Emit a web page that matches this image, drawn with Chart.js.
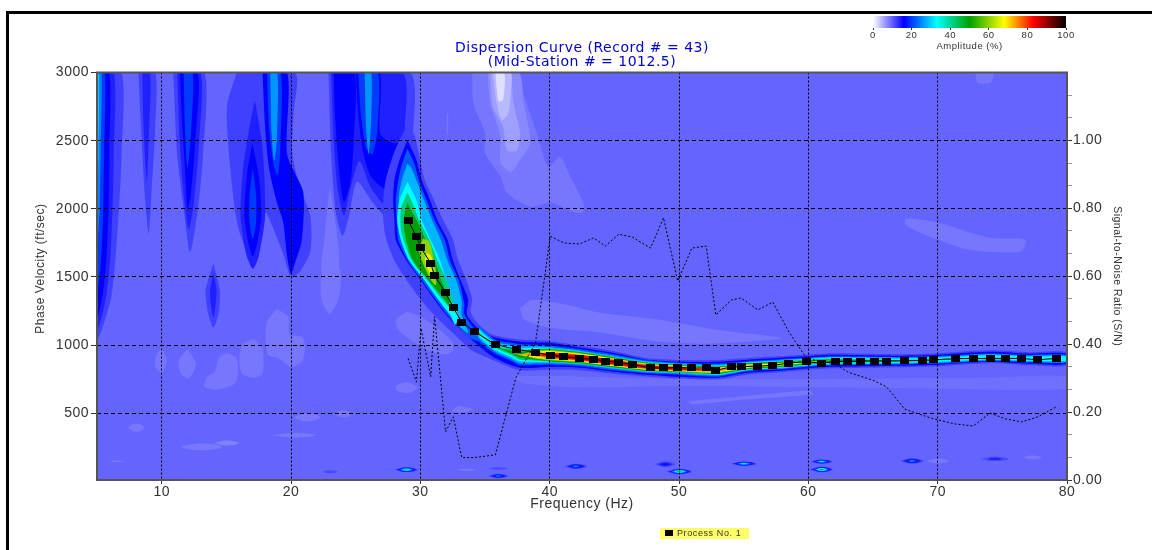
<!DOCTYPE html>
<html>
<head>
<meta charset="utf-8">
<title>Dispersion Curve</title>
<script src="https://cdn.jsdelivr.net/npm/chart.js@4/dist/chart.umd.min.js"></script>
<style>
    html, body { margin: 0; padding: 0; background: #fff; overflow: hidden; }
    #wrap { position: relative; width: 1152px; height: 550px; }
    #main { position: absolute; left: 0; top: 0; filter: blur(0.5px); }
    #bar { position: absolute; left: 853px; top: 12px; filter: blur(0.4px); }
    #frame { position: absolute; left: 6px; top: 11px; width: 1143px; height: 539px;
             border: 3px solid #000; border-bottom: 0; pointer-events: none; }
    #key { position: absolute; left: 660px; top: 528px; width: 89px; height: 11px; background: #ffff66;
           font: 9px/11px "Liberation Sans", Arial, sans-serif; letter-spacing: .6px; color: #333; white-space: nowrap; }
    #key i { position: absolute; left: 5px; top: 2px; width: 8px; height: 6px; background: #000; }
    #key span { position: absolute; left: 17px; top: 0; }
</style>
</head>
<body>
<div id="wrap">
    <canvas id="main" width="1152" height="550"></canvas>
    <canvas id="bar" width="233" height="40"></canvas>
    <div id="frame"></div>
    <div id="key"><i></i><span>Process No. 1</span></div>
</div>
<script>
// axis ticks
const freqTicks = [10, 20, 30, 40, 50, 60, 70, 80];
const velocityTicks = [500, 1000, 1500, 2000, 2500, 3000];
const snTicks = [0, 0.0667, 0.1333, 0.2, 0.2667, 0.3333, 0.4, 0.4667, 0.5333, 0.6, 0.6667, 0.7333, 0.8, 0.8667, 0.9333, 1, 1.0667, 1.1333];
const amplitudeTicks = [0, 20, 40, 60, 80, 100];

// picked dispersion curve and signal-to-noise ratio
const pickFreq = [29.05, 29.7, 30.05, 30.8, 31.1, 31.95, 32.55, 33.2, 34.15, 35.8, 37.4, 38.9, 40.05, 41.1, 42.3, 43.4, 44.3, 45.35, 46.4, 47.8, 48.8, 49.9, 51.0, 52.1, 52.85, 54.05, 54.8, 56.1, 57.25, 58.5, 59.85, 61.0, 62.1, 63.05, 64, 65.1, 66.05, 67.45, 68.8, 69.7, 71.35, 72.75, 74.05, 75.25, 76.5, 77.75, 79.15];
const pickVel = [1917, 1794, 1714, 1601, 1508, 1386, 1274, 1169, 1100, 1005, 968, 949, 924, 915, 902, 895, 883, 873, 858, 832, 832, 836, 832, 832, 814, 841, 841, 846, 851, 868, 878, 868, 880, 878, 883, 883, 883, 885, 887, 892, 900, 902, 902, 902, 902, 892, 902];
const pickSN = [.358, .289, .447, .304, .481, .142, .186, .066, .066, .074, .303, .403, .718, .698, .695, .713, .689, .724, .715, .683, .772, .586, .683, .689, .486, .530, .536, .501, .524, .436, .359, .348, .342, .318, .306, .292, .274, .209, .191, .180, .165, .159, .197, .180, .171, .186, .215];

// colour bar stops: amplitude and colour
const rampAmp = [0, 16, 33, 50, 68, 83, 100];
const rampRGB = [[255, 255, 255], [0, 0, 255], [0, 255, 255], [0, 160, 0], [255, 255, 0], [255, 0, 0], [0, 0, 0]];
const backgroundAmp = 9.7;

// contour outlines, freq,velocity pairs
const paleA = [9.95,985, 10.4,890, 10.05,795, 9.55,830, 9.5,900];
const paleB = [12,975, 12.65,860, 12.1,755, 11.5,790, 11.3,880];
const paleC = [15,946, 15.8,904, 15.75,725, 14.25,672, 13.3,696, 13.5,768, 14.1,805, 14.4,904];
const paleD = [17.1,1046, 17.8,980, 17.8,790, 17.1,760, 16.2,790, 16,900, 16.2,1000];
const paleE = [18.9,1265, 19.8,1210, 19.9,1076, 20.85,1063, 21.1,990, 20.85,880, 20,840, 19,904, 18.2,930, 18.1,1162];
const paleF = [22.8,1650, 23.8,1550, 23.7,1350, 23,1230, 22.4,1320, 22.3,1480];
const paleG = [23,2170, 23.7,1700, 23.6,1530, 22.4,1530, 22.6,1800];
const paleH = [29,1247, 30,1210, 31.5,1113, 32.5,1017, 32.5,953, 31.8,930, 30.5,966, 29.2,1040, 28.3,1113, 28.1,1186];
const paleI = [29,730, 29.8,690, 29.2,650, 28.3,660, 28.1,700];
const paleJ = [33,555, 34.1,530, 33.4,505, 32.4,515];
const paleUpper = [37.7,1274, 38.7,1333, 41.3,1296, 43.9,1237, 48.5,1186, 52.9,1113, 58,1050, 52,1010, 48,1030, 44,1090, 40,1127, 38,1190];
const paleLower = [37,775, 42,770, 48,755, 54,750, 60,750, 67,755, 74,760, 80,770, 80,680, 70,680, 60,690, 50,700, 42,690, 38,720];
const paleSliver = [50.7,590, 55,625, 60,665, 60.4,640, 55,600, 51,565];
const paleRight = [67.5,1933, 69.8,1904, 74,1787, 76.8,1773, 76.4,1685, 72.5,1699, 69,1810, 67.5,1882];
const paleTop = [72.9,3000, 74.3,3000, 74.1,2925, 73.1,2925];
const paleBlips = [32.05,2700, 32.15,2700, 32.15,2550, 32.05,2550];

const plume1 = [34,3000, 34.1,2776, 35,2556, 35,2410, 36.2,2235, 36.7,2115, 38.5,2014, 40,2044, 42.1,1970, 42.6,1980, 42.6,2044, 41.6,2235, 40.8,2380, 39.9,2308, 39,2556, 37.7,2923, 37.5,3000];
const plume2 = [35.2,3000, 35.4,2776, 36.2,2530, 36.2,2337, 37,2270, 37.7,2360, 38.5,2483, 38,2776, 37.6,3000];
const plume3 = [35.4,3000, 35.6,2747, 36.4,2600, 36.7,2430, 37.5,2430, 37.7,2556, 37.2,2776, 36.9,3000];
const plume4 = [35.6,3000, 35.9,2776, 36.3,2650, 36.8,2700, 37,2870, 37,3000];
const plume5 = [35.8,3000, 36.05,2790, 36.4,2800, 36.5,3000];

const edge12 = [5,3000, 6.9,3000, 6.9,2400, 6.7,2000, 6.4,1600, 6.1,1350, 5.5,1150, 5,1040];
const edge14 = [5,3000, 6.3,3000, 6.3,2400, 6.2,2000, 6,1600, 5.6,1300, 5,1120];
const edge16 = [5,3000, 5.95,3000, 5.95,2400, 5.9,2000, 5.7,1600, 5.4,1350, 5,1200];
const edge20 = [5,3000, 5.6,3000, 5.55,2400, 5.45,1900, 5.25,1550, 5,1400];
const edge25 = [5,3000, 5.35,3000, 5.3,2500, 5.2,2000, 5,1700];
const edge30 = [5,3000, 5.15,3000, 5.12,2400, 5,2100];
const nine12 = [8.2,3000, 9.5,3000, 9.5,2600, 9.2,2100, 9,1820, 8.7,2100, 8.4,2600];
const nine14 = [8.5,3000, 9.1,3000, 9,2500, 8.85,2200, 8.6,2600];
const twelve12 = [10.9,3000, 13.3,3000, 13.2,2400, 12.8,2000, 12.2,1685, 11.7,2000, 11.2,2400];
const twelve14 = [11.2,3000, 13,3000, 12.9,2500, 12.5,2050, 12.1,1850, 11.7,2100, 11.4,2500];
const twelve16 = [11.4,3000, 12.8,3000, 12.6,2500, 12.25,2100, 12,2000, 11.8,2300, 11.6,2600];
const twelve20 = [11.7,3000, 12.4,3000, 12.3,2600, 12,2300, 11.8,2600];
const fourteen12 = [14,1600, 14.5,1400, 14.4,1230, 14,1130, 13.6,1230, 13.4,1400];
const fourteen14 = [14,1530, 14.25,1400, 14.15,1280, 14,1200, 13.8,1300, 13.75,1400];
const mid12 = [15.8,3000, 20.3,3000, 20.2,2700, 20.1,2400, 20.7,2160, 21.5,1940, 21.5,1690, 20.7,1540, 20,1500, 19.4,1670, 18.1,1970, 17.8,1950, 17.1,1600, 15.9,1870, 15.3,2310, 15.05,2750];
const mid14 = [17.2,2800, 17.8,2450, 18,1950, 17.5,1650, 17.05,1560, 16.5,1680, 16.1,1950, 16.3,2300, 16.8,2600];
const mid16 = [17,2480, 17.5,2250, 17.7,1950, 17.4,1750, 17.05,1650, 16.7,1750, 16.4,1950, 16.6,2250];
const mid20 = [17.05,2300, 17.3,2100, 17.3,1900, 17.05,1780, 16.8,1900, 16.8,2100];
const twenty16 = [17.8,3000, 19.7,3000, 19.7,2400, 20.9,2140, 21,2000, 20.8,1750, 20.3,1600, 20,1520, 19.7,1650, 19.4,1900, 18.9,2050, 18.3,2300, 18,2600];
const twenty20 = [18.15,3000, 19.2,3000, 19.2,2500, 19,2250, 18.7,2300, 18.3,2600];
const twenty26 = [18.4,3000, 18.95,3000, 18.9,2500, 18.7,2350, 18.5,2550];
const late12 = [22.9,3000, 29.2,3000, 29.4,2500, 29,2000, 28.3,1650, 27.9,1850, 26.3,2050, 25.1,2200, 24.5,1950, 24,1800, 23.5,1950, 23.1,2400];
const late14 = [23.1,3000, 28.6,3000, 28.8,2600, 28.3,2150, 27.6,2000, 26.2,2150, 25.3,2350, 24.6,2150, 24.1,1950, 23.6,2150, 23.3,2500];
const late16 = [23.3,3000, 24.9,3000, 24.85,2500, 24.6,2200, 24.1,2050, 23.7,2300, 23.4,2700];
const late16b = [25,3000, 26.85,3000, 26.9,2550, 28,2480, 29.1,2510, 29.3,2400, 28.5,2100, 27,2160, 26.1,2250, 25.5,2450, 25.2,2700];
const late20 = [25.2,3000, 26.7,3000, 26.7,2600, 26.3,2400, 25.8,2450, 25.4,2700];
const late26 = [25.7,3000, 26.2,3000, 26.2,2650, 26,2400, 25.8,2600];

// ridge outlines, the steep part and the whole envelope
const ridge12 = [29,2620, 28,2420, 27.3,2200, 27.1,2000, 27.3,1800, 28,1620, 29.2,1440, 30.4,1290, 31.5,1180, 33,1045, 34,960, 35.6,890, 37.7,815, 40,820, 42.4,815, 44.9,790, 47.5,770, 50.1,755, 52.95,748, 55.3,785, 57.8,800, 60.4,822, 61.9,830, 67.1,838, 70,845, 74,867, 77.1,852, 80,852, 80,948, 77.1,948, 74,962, 70,940, 67.1,933, 61.9,940, 60.4,933, 57.8,919, 55.3,905, 52.95,890, 50.1,890, 47.5,905, 44.9,956, 42.4,995, 40,1030, 37.7,1040, 35.6,1075, 34.6,1140, 33.9,1240, 34,1340, 33.5,1490, 32.9,1630, 32.5,1780, 31.7,1930, 31,2075, 30.3,2225, 29.9,2400, 29.5,2550];
const ridge16 = [29,2505, 28.4,2359, 28,2212, 27.9,2065, 28,1919, 28.1,1772, 28.9,1626, 30,1479, 31.1,1332, 32,1222, 32.5,1171, 34.2,1020, 35.6,915, 37.7,834, 40,841, 42.4,834, 44.9,805, 47.5,783, 50.1,768, 52.95,761, 55.3,797, 57.8,812, 60.4,834, 61.9,841, 67.1,849, 70,856, 74,878, 77.1,863, 80,863, 80,937, 77.1,937, 74,951, 70,929, 67.1,922, 61.9,929, 60.4,922, 57.8,907, 55.3,893, 52.95,878, 50.1,878, 47.5,893, 44.9,944, 42.4,981, 40,1017, 37.7,1025, 35.6,1061, 34.4,1127, 33.6,1222, 33.7,1332, 33.1,1479, 32.5,1626, 32.1,1772, 31.3,1919, 30.75,2065, 30.1,2212, 29.7,2359];
const steep22 = [29,2440, 28.5,2300, 28.2,2150, 28.1,2050, 28.2,1900, 28.3,1770, 29.1,1610, 30.2,1465, 31.3,1320, 32.2,1210, 32.9,1140, 33.7,1060, 34.6,1030, 34.6,1130, 34.2,1120, 33.4,1230, 33.4,1300, 33,1470, 32.3,1620, 31.9,1770, 31.1,1920, 30.5,2060, 29.9,2210, 29.5,2340];
const steep28 = [29,2330, 28.6,2220, 28.35,2100, 28.35,1920, 28.5,1770, 29.3,1610, 30.4,1465, 31.5,1320, 32.4,1210, 33.1,1130, 33.7,1090, 33.2,1220, 33.2,1320, 32.8,1470, 32.1,1620, 31.6,1770, 30.9,1920, 30.3,2060, 29.7,2210, 29.3,2300];
const steep33 = [29,2197, 28.4,2065, 28.2,1919, 28.5,1772, 29.1,1626, 30.3,1479, 31.4,1332, 32.3,1222, 32.7,1149, 32.9,1222, 32.5,1332, 32,1479, 31.5,1626, 30.8,1772, 30.1,1919, 29.7,2065];
const steep42 = [29,2120, 28.5,2000, 28.5,1850, 28.7,1772, 29.3,1626, 30.5,1479, 31.7,1332, 32.4,1260, 32.6,1240, 32.6,1300, 32,1479, 31.3,1626, 30.7,1772, 29.9,1919, 29.4,2040];
const steep50 = [29,2043, 28.7,1919, 28.9,1772, 29.4,1626, 30.6,1479, 31.9,1332, 32.2,1296, 32.2,1332, 31.6,1479, 31.1,1626, 30.4,1772, 29.7,1919];
const steep60 = [30.2,1780, 29.9,1700, 30.2,1600, 30.8,1480, 31.2,1440, 31.2,1550, 31,1650, 30.7,1760];
const steep66 = [30.55,1680, 30.35,1620, 30.8,1520, 31,1560, 30.85,1650];

// flat part of the ridge: centre and half widths per contour level
const flatFreq = [34.5, 35.8, 37, 37.7, 39, 40, 42.4, 44.9, 47.5, 50.1, 52.95, 55.3, 57.8, 60.4, 61.9, 67.1, 70, 74, 77.1, 80];
const flatVel = [1091, 988, 951, 929, 929, 926, 907, 874, 841, 827, 816, 845, 859, 878, 885, 885, 892, 911, 900, 900];
const flat22 = [59, 51, 66, 77, 73, 70, 62, 59, 48, 44, 48, 37, 37, 33, 33, 28, 28, 28, 28, 28];
const flat28 = [37, 37, 51, 62, 62, 59, 51, 48, 40, 37, 39, 31, 31, 27, 27, 22, 22, 22, 22, 22];
const flat33 = [22, 22, 37, 48, 51, 51, 44, 40, 33, 29, 32, 26, 25, 22, 22, 15, 15, 15, 15, 15];
const flat42 = [7, 7, 22, 37, 44, 48, 44, 40, 33, 29, 29, 24, 22, 18, 15, 7, 6, 0, 0, 0];
const flat50 = [0, 0, 11, 22, 37, 44, 40, 37, 29, 26, 25, 20, 18, 13, 9, 0, 0, 0, 0, 0];
const flat60 = [0, 0, 0, 4, 29, 37, 33, 29, 24, 22, 20, 15, 12, 5, 0, 0, 0, 0, 0, 0];
const flat68 = [0, 0, 0, 0, 22, 29, 29, 26, 20, 18, 15, 10, 6, 0, 0, 0, 0, 0, 0, 0];
const flat76 = [0, 0, 0, 0, 12, 22, 24, 20, 16, 13, 9, 4, 0, 0, 0, 0, 0, 0, 0, 0];
const flat85 = [0, 0, 0, 0, 0, 14, 18, 16, 11, 9, 0, 0, 0, 0, 0, 0, 0, 0, 0, 0];

// small spots near the bottom: freq, velocity, half width in Hz, half height, peak amplitude
const spotFreq = [28.9, 36, 36, 42, 48.9, 50, 55, 61, 61, 68, 74.4, 23, 8, 13, 15, 21.2, 20.2, 24, 6.5, 70, 77.3, 33.5];
const spotVel = [86, 39, 95, 110, 125, 72, 130, 145, 87, 150, 165, 70, 395, 253, 281, 470, 338, 495, 147, 150, 175, 85];
const spotHalfF = [.9, .8, .75, .9, .8, 1, 1, .9, .9, .9, 1.1, .6, .65, 1.7, .95, 1.05, 1.7, .7, .65, .85, .75, .8];
const spotHalfV = [18, 16, 9, 20, 20, 20, 16, 16, 20, 20, 16, 12, 30, 24, 18, 30, 17, 25, 6, 18, 14, 8];
const spotPeak = [48, 28, 12, 28, 17, 52, 36, 36, 50, 27, 15, 12, 8.5, 8.5, 8, 8.5, 8.5, 8.5, 8.5, 8.5, 8.5, 8.5];

const spotLevels = [11.5, 14, 17, 21, 26, 31, 36, 44, 50];

function ampColor(a) {
    let i = 0;
    while (i < rampAmp.length - 2 && a > rampAmp[i + 1]) i++;
    const t = Math.min(1, Math.max(0, (a - rampAmp[i]) / (rampAmp[i + 1] - rampAmp[i])));
    const c = rampRGB[i].map((v, k) => Math.round(v + (rampRGB[i + 1][k] - v) * t));
    return `rgb(${c[0]},${c[1]},${c[2]})`;
}

function outline(flat) {
    const pts = [];
    for (let i = 0; i < flat.length; i += 2) pts.push({x: flat[i], y: flat[i + 1]});
    pts.push(pts[0]);
    return pts;
}

function band(half) {
    const up = flatFreq.map((f, i) => ({x: f, y: flatVel[i] + half[i]}));
    const down = flatFreq.map((f, i) => ({x: f, y: flatVel[i] - half[i]})).reverse();
    return up.concat(down, [up[0]]);
}

function spotShape(i, scale) {
    const f = spotFreq[i], v = spotVel[i], hf = spotHalfF[i] * scale, hv = spotHalfV[i] * scale;
    return [{x: f - hf, y: v}, {x: f, y: v + hv}, {x: f + hf, y: v}, {x: f, y: v - hv}, {x: f - hf, y: v}];
}

// painted back to front
const contours = [];
[paleA, paleB, paleC, paleD, paleE, paleF, paleG, paleH, paleI, paleJ, paleUpper, paleSliver, paleRight, paleTop, paleBlips].forEach(p => contours.push([8.6, outline(p), 0.25]));
contours.push([9, outline(paleLower), 0.25]);
contours.push([8.6, outline(plume1), 0.25], [7.4, outline(plume2), 0.25], [6, outline(plume3), 0.25], [4.4, outline(plume4), 0.25], [2, outline(plume5), 0.25]);
[[12, edge12], [14, edge14], [16, edge16], [20, edge20], [25, edge25], [30, edge30],
 [12, nine12], [14, nine14], [12, twelve12], [14, twelve14], [16, twelve16], [20, twelve20],
 [12, fourteen12], [14, fourteen14], [12, mid12], [14, mid14], [16, mid16], [20, mid20],
 [16, twenty16], [20, twenty20], [26, twenty26],
 [12, late12], [14, late14], [16, late16], [16, late16b], [20, late20], [26, late26],
 [12, ridge12], [16, ridge16], [22, steep22], [28, steep28], [33, steep33], [42, steep42], [50, steep50], [60, steep60], [66, steep66]
].forEach(c => contours.push([c[0], outline(c[1]), 0.25]));
[[22, flat22], [28, flat28], [33, flat33], [42, flat42], [50, flat50], [60, flat60], [68, flat68], [76, flat76], [85, flat85]].forEach(c => contours.push([c[0], band(c[1]), 0.2]));
spotPeak.forEach((peak, i) => {
    if (peak < backgroundAmp) {
        contours.push([peak, spotShape(i, 1), 0.45]);
        return;
    }
    const levels = spotLevels.filter(l => l <= peak);
    levels.forEach((l, k) => contours.push([l, spotShape(i, 1 - k / levels.length), 0.45]));
});

const contourSets = contours.map((c, i) => ({
    type: 'scatter',
    data: c[1],
    xAxisID: 'x',
    yAxisID: 'y',
    showLine: true,
    fill: 'shape',
    backgroundColor: ampColor(c[0]),
    borderWidth: 0,
    borderColor: 'transparent',
    pointRadius: 0,
    tension: c[2],
    order: 1000 - i
}));

// wide black picks
const pickMark = document.createElement('canvas');
pickMark.width = 9;
pickMark.height = 7;
const markCtx = pickMark.getContext('2d');
markCtx.fillStyle = '#000';
markCtx.fillRect(0, 0, 9, 7);

const pickPoints = pickFreq.map((f, i) => ({x: f, y: pickVel[i]}));
const snPoints = pickFreq.map((f, i) => ({x: f, y: pickSN[i]}));

const spacedText = {
    id: 'spacedText',
    beforeDraw(chart) {
        chart.ctx.letterSpacing = '0.5px';
    }
};

const plotPaint = {
    id: 'plotPaint',
    beforeDatasetsDraw(chart) {
        const a = chart.chartArea;
        chart.ctx.save();
        chart.ctx.fillStyle = ampColor(backgroundAmp);
        chart.ctx.fillRect(a.left, a.top, a.width, a.height);
        chart.ctx.restore();
    },
    afterDraw(chart) {
        const a = chart.chartArea;
        chart.ctx.save();
        chart.ctx.strokeStyle = '#555';
        chart.ctx.lineWidth = 2;
        chart.ctx.strokeRect(a.left, a.top, a.width, a.height);
        chart.ctx.restore();
    }
};

const tickFont = {family: '"Liberation Sans", Arial, sans-serif', size: 14};
const titleFont = {family: '"Liberation Sans", Arial, sans-serif', size: 12};

new Chart(document.getElementById('main').getContext('2d'), {
    type: 'scatter',
    data: {
        datasets: [
            {
                data: pickPoints,
                xAxisID: 'x',
                yAxisID: 'y',
                showLine: true,
                borderColor: '#000',
                borderWidth: 1,
                pointStyle: pickMark,
                pointRadius: 4,
                order: 0
            },
            {
                data: snPoints,
                xAxisID: 'x',
                yAxisID: 'sn',
                showLine: true,
                borderColor: '#000',
                borderWidth: 1,
                borderDash: [2, 2],
                pointRadius: 0,
                order: 1
            }
        ].concat(contourSets)
    },
    options: {
        responsive: false,
        animation: false,
        events: [],
        layout: {padding: {left: 33, right: 29, top: 0, bottom: 37}},
        plugins: {
            legend: {display: false},
            tooltip: {enabled: false},
            title: {
                display: true,
                fullSize: false,
                text: ['Dispersion Curve (Record # = 43)', '(Mid-Station # = 1012.5)'],
                color: '#0000d0',
                font: {family: '"DejaVu Sans", sans-serif', size: 14, weight: 'normal', lineHeight: 1},
                padding: {top: 41, bottom: 3.5}
            }
        },
        scales: {
            x: {
                type: 'linear',
                position: 'bottom',
                min: 5,
                max: 80,
                afterBuildTicks: s => { s.ticks = freqTicks.map(v => ({value: v})); },
                afterFit: s => { s.height = 33; },
                grid: {z: 1, color: '#000', lineWidth: 1, tickColor: '#333', tickLength: 4},
                border: {display: false, dash: [2, 2]},
                ticks: {font: tickFont, color: '#333', padding: 0, maxRotation: 0},
                title: {display: true, text: 'Frequency (Hz)', font: {family: tickFont.family, size: 14}, color: '#333', padding: 0}
            },
            y: {
                type: 'linear',
                position: 'left',
                min: 10,
                max: 3000,
                afterBuildTicks: s => { s.ticks = velocityTicks.map(v => ({value: v})); },
                afterFit: s => { s.width = 64; },
                grid: {z: 1, color: '#000', lineWidth: 1, tickColor: '#333', tickLength: 6},
                border: {display: false, dash: [4, 3]},
                ticks: {font: tickFont, color: '#333', padding: 2, callback: v => String(v)},
                title: {display: true, text: '    Phase Velocity (ft/sec)', font: titleFont, color: '#333', padding: 0}
            },
            sn: {
                type: 'linear',
                position: 'right',
                min: 0,
                max: 1.2,
                afterBuildTicks: s => { s.ticks = snTicks.map(v => ({value: v})); },
                afterFit: s => { s.width = 56; },
                grid: {
                    drawOnChartArea: false,
                    tickLength: 5,
                    tickColor: c => (Math.abs(c.tick.value * 5 - Math.round(c.tick.value * 5)) < 0.01 ? '#333' : '#999')
                },
                border: {display: false},
                ticks: {
                    font: tickFont,
                    color: '#333',
                    padding: 1,
                    autoSkip: false,
                    callback: v => (Math.abs(v * 5 - Math.round(v * 5)) < 0.01 ? v.toFixed(2) : '')
                },
                title: {display: true, text: 'Signal-to-Noise Ratio (S/N)', font: {family: tickFont.family, size: 10.5}, color: '#333', padding: 0}
            }
        }
    },
    plugins: [spacedText, plotPaint]
});

// amplitude colour bar
new Chart(document.getElementById('bar').getContext('2d'), {
    type: 'bar',
    data: {
        labels: ['Amplitude'],
        datasets: [{
            data: [[0, 100]],
            barPercentage: 1,
            categoryPercentage: 1,
            borderSkipped: false,
            backgroundColor: c => {
                const a = c.chart.chartArea;
                if (!a) return '#000';
                const g = c.chart.ctx.createLinearGradient(a.left, 0, a.right, 0);
                rampAmp.forEach(v => g.addColorStop(v / 100, ampColor(v)));
                return g;
            }
        }]
    },
    options: {
        indexAxis: 'y',
        responsive: false,
        animation: false,
        events: [],
        layout: {padding: {left: 20, right: 20, top: 4, bottom: 0}},
        plugins: {legend: {display: false}, tooltip: {enabled: false}},
        scales: {
            y: {display: false},
            x: {
                type: 'linear',
                min: 0,
                max: 100,
                afterBuildTicks: s => { s.ticks = amplitudeTicks.map(v => ({value: v})); },
                afterFit: s => { s.height = 24; },
                grid: {drawOnChartArea: false, tickLength: 2, tickColor: '#333'},
                border: {display: false},
                ticks: {font: {family: tickFont.family, size: 9.5}, color: '#333', padding: 0, maxRotation: 0},
                title: {display: true, text: 'Amplitude (%)', font: {family: tickFont.family, size: 9.5}, color: '#333', padding: 0}
            }
        }
    },
    plugins: [spacedText]
});
</script>
</body>
</html>
